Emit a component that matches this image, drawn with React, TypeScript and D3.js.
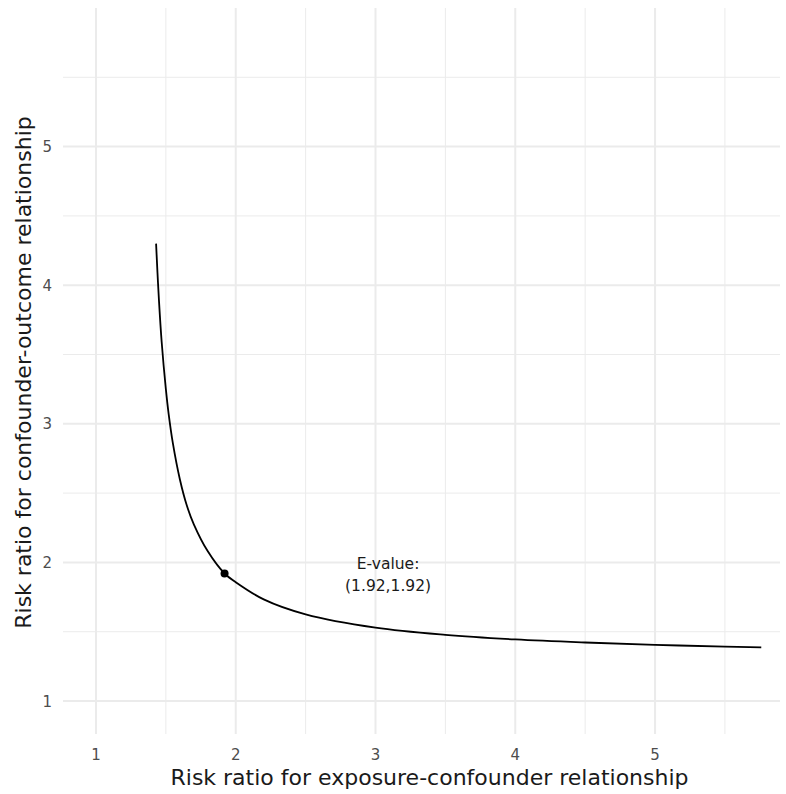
import React from "react";
import * as d3 from "d3";

const curveX = [1.43, 1.44, 1.45, 1.47, 1.5, 1.52, 1.55, 1.6, 1.65, 1.7, 1.8, 1.92, 2.0, 2.2, 2.5, 3.0, 3.5, 4.0, 4.5, 5.0, 5.5, 5.76];
const curveY = [4.3, 4.09, 3.9, 3.59, 3.25, 3.07, 2.86, 2.6, 2.41, 2.275, 2.08, 1.92, 1.857, 1.733, 1.625, 1.529, 1.477, 1.444, 1.422, 1.405, 1.393, 1.387];
const eValue = { x: 1.92, y: 1.92 };
const majorTicks = [1, 2, 3, 4, 5];
const minorTicks = [1.5, 2.5, 3.5, 4.5, 5.5];
const labelLines = ["E-value:", "(1.92,1.92)"];
const labelPos = { x: 3.09, y: 1.92 };

const W = 786, H = 794;
const left = 63, right = 780, top = 8, bottom = 734;

export default function App() {
  const x = d3.scaleLinear().domain([0.764, 5.894]).range([left, right]);
  const y = d3.scaleLinear().domain([0.762, 6.0]).range([bottom, top]);
  const pts = curveX.map((v, i) => [v, curveY[i]] as [number, number]);
  const line = d3.line<[number, number]>().x(d => x(d[0])).y(d => y(d[1])).curve(d3.curveCatmullRom);
  const font = "'DejaVu Sans', sans-serif";
  const grid = "#ebebeb";
  const lx = x(labelPos.x);
  const ly = y(labelPos.y);
  return (
    <svg width={W} height={H} style={{ position: "absolute", left: 0, top: 0 }} fontFamily={font}>
      <rect width={W} height={H} fill="#fff" />
      {minorTicks.map(t => (
        <line key={"mx" + t} x1={x(t)} x2={x(t)} y1={top} y2={bottom} stroke={grid} strokeWidth={1} />
      ))}
      {minorTicks.map(t => (
        <line key={"my" + t} y1={y(t)} y2={y(t)} x1={left} x2={right} stroke={grid} strokeWidth={1} />
      ))}
      {majorTicks.map(t => (
        <line key={"Mx" + t} x1={x(t)} x2={x(t)} y1={top} y2={bottom} stroke={grid} strokeWidth={2} />
      ))}
      {majorTicks.map(t => (
        <line key={"My" + t} y1={y(t)} y2={y(t)} x1={left} x2={right} stroke={grid} strokeWidth={2} />
      ))}
      <path d={line(pts) || ""} fill="none" stroke="#000" strokeWidth={1.8} />
      <circle cx={x(eValue.x)} cy={y(eValue.y)} r={4} fill="#000" />
      <text textAnchor="middle" fontSize={15.5} fill="#1a1a1a">
        <tspan x={lx} y={ly - 4}>{labelLines[0]}</tspan>
        <tspan x={lx} y={ly + 17.5}>{labelLines[1]}</tspan>
      </text>
      {majorTicks.map(t => (
        <text key={"tx" + t} x={x(t)} y={759.5} textAnchor="middle" fontSize={15} fill="#4d4d4d">{t}</text>
      ))}
      {majorTicks.map(t => (
        <text key={"ty" + t} x={52} y={y(t) + 5.5} textAnchor="end" fontSize={15} fill="#4d4d4d">{t}</text>
      ))}
      <text x={429.5} y={785} textAnchor="middle" fontSize={22} fill="#1a1a1a">Risk ratio for exposure-confounder relationship</text>
      <text transform={`translate(31, ${372.5}) rotate(-90)`} textAnchor="middle" fontSize={22} fill="#1a1a1a">Risk ratio for confounder-outcome relationship</text>
    </svg>
  );
}
